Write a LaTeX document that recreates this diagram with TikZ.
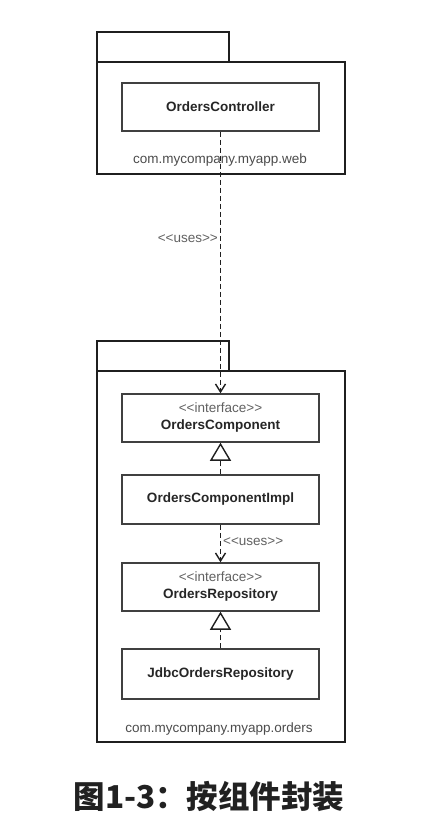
\documentclass[tikz,border=0pt]{standalone}
\usepackage{fontspec}
\setmainfont{Liberation Sans}
\newfontfamily\cjk{Noto Sans CJK SC}
\usetikzlibrary{arrows.meta}
\newcommand\mystl{<\kern0pt<}
\newcommand\mystg{>\kern0pt>}
\begin{document}
\begin{tikzpicture}[x=1pt,y=-1pt,
  pkgbody/.style={draw=black!88, line width=2.8pt, inner sep=0pt, outer sep=0pt, minimum width=248pt},
  pkgtab/.style={draw=black!88, line width=2.8pt, inner sep=0pt, outer sep=0pt, minimum width=132pt, minimum height=30pt, anchor=south west},
  cls/.style={draw=black!75, line width=1.5pt, minimum width=197pt, minimum height=48pt, inner sep=0pt, fill=white, align=center, font=\fontsize{13.5}{17}\selectfont\bfseries, text=black!85},
  pkglabel/.style={font=\fontsize{13.5}{16}\selectfont, text=black!70, inner sep=1pt},
  ster/.style={font=\fontsize{13.5}{16}\selectfont, text=black!62, inner sep=2pt},
  dep/.style={draw=black!88, line width=1.4pt, dash pattern=on 5pt off 3pt, -{Straight Barb[length=8pt,width=10pt,line width=1.4pt]}},
  real/.style={draw=black!88, line width=1.4pt, dash pattern=on 5pt off 3pt, -{Triangle[open,length=18pt,width=21pt,line width=1.4pt,fill=white]}}
]
\useasboundingbox[fill=white] (0,0) rectangle (434,838);

% web package
\node[pkgbody, minimum height=112pt] (webpkg) at (221,118) {};
\node[pkgtab] (webtab) at (webpkg.north west) {};
\node[cls] (ctrl) at (220.5,107) {OrdersController};
\node[pkglabel] (weblbl) at (220,160) {com.mycompany.myapp.web};

% orders package
\node[pkgbody, minimum height=371pt] (ordpkg) at (221,556.5) {};
\node[pkgtab] (ordtab) at (ordpkg.north west) {};
\node[cls] (comp) at (220.5,418) {{\mdseries\color{black!62}\mystl interface\mystg}\\OrdersComponent};
\node[cls, minimum height=49pt] (impl) at (220.5,499.5) {OrdersComponentImpl};
\node[cls] (repo) at (220.5,587) {{\mdseries\color{black!62}\mystl interface\mystg}\\OrdersRepository};
\node[cls, minimum height=50pt] (jdbc) at (220.5,674) {JdbcOrdersRepository};
\node[pkglabel] (ordlbl) at (219,729) {com.mycompany.myapp.orders};

% connectors
\draw[dep] (ctrl.south) -- node[ster, pos=0.41, anchor=east] {\mystl uses\mystg} (comp.north);
\draw[real] (impl.north) -- (comp.south);
\draw[dep] (impl.south) -- node[ster, pos=0.44, anchor=west] {\mystl uses\mystg} (repo.north);
\draw[real] (jdbc.north) -- (repo.south);

% caption
\node[font=\cjk\bfseries\fontsize{31.5}{38}\selectfont, text=black!87] (cap) at (209,797) {图1-3：按组件封装};
\end{tikzpicture}
\end{document}
